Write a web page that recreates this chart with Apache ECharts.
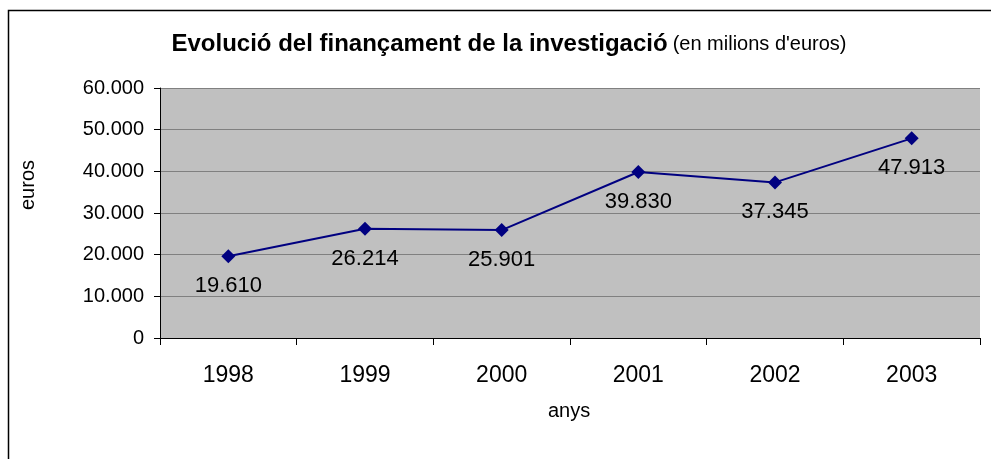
<!DOCTYPE html>
<html lang="ca">
  <head>
    <meta charset="UTF-8" />
    <title>Evolució del finançament de la investigació</title>
    <style>
      * {
        margin: 0;
        padding: 0;
      }
      #main {
        width: 991px;
        height: 459px;
        background: #fff;
      }
    </style>
  </head>
  <body>
    <div id="main"></div>
    <script src="https://cdn.jsdelivr.net/npm/echarts@6/dist/echarts.min.js"></script>
    <script>
      const chart = echarts.init(document.getElementById("main"));

      // dades
      const years = ["1998", "1999", "2000", "2001", "2002", "2003"];
      const funding = [19610, 26214, 25901, 39830, 37345, 47913];

      // 19610 -> "19.610"
      const fmt = (v) => String(v).replace(/\B(?=(\d{3})+(?!\d))/g, ".");

      const font = "Liberation Sans, Arial, sans-serif";

      const option = {
        animation: false,
        textStyle: { fontFamily: font },
        title: {
          text: "{b|Evolució del finançament de la investigació} {n|(en milions d'euros)}",
          left: 504,
          top: 27,
          textAlign: "center",
          textStyle: {
            rich: {
              b: { fontFamily: font, fontWeight: "bold", fontSize: 24, color: "#000" },
              n: { fontFamily: font, fontWeight: "normal", fontSize: 20, color: "#000" },
            },
          },
        },
        graphic: [
          {
            type: "rect",
            shape: { x: 8.5, y: 10.5, width: 1000, height: 500 },
            style: { fill: "none", stroke: "#000", lineWidth: 1.5 },
            z: -10,
          },
          {
            type: "text",
            left: 548,
            top: 401,
            style: { text: "anys", font: "20px " + font, fill: "#000" },
          },
          {
            type: "text",
            x: 18,
            y: 210,
            rotation: Math.PI / 2,
            style: { text: "euros", font: "20px " + font, fill: "#000" },
          },
        ],
        grid: {
          left: 160,
          right: 11,
          top: 88,
          bottom: 121,
          show: true,
          backgroundColor: "#c0c0c0",
          borderWidth: 0,
        },
        xAxis: {
          type: "category",
          data: years,
          boundaryGap: true,
          axisLine: { lineStyle: { color: "#000", width: 1 } },
          axisTick: { show: true, length: 7, lineStyle: { color: "#000" } },
          axisLabel: { color: "#000", fontSize: 23, margin: 26, fontFamily: font },
        },
        yAxis: {
          type: "value",
          min: 0,
          max: 60000,
          interval: 10000,
          axisLine: { show: true, lineStyle: { color: "#000", width: 1 } },
          axisTick: { show: true, length: 6, lineStyle: { color: "#000" } },
          axisLabel: {
            color: "#000",
            fontSize: 20,
            margin: 16,
            fontFamily: font,
            formatter: fmt,
          },
          splitLine: { lineStyle: { color: "#808080", width: 1 } },
        },
        series: [
          {
            type: "line",
            data: funding,
            symbol: "diamond",
            symbolSize: 14,
            lineStyle: { color: "#000080", width: 2 },
            itemStyle: { color: "#000080" },
            label: {
              show: true,
              position: "bottom",
              distance: 12,
              color: "#000",
              fontSize: 22,
              fontFamily: font,
              formatter: (p) => fmt(p.value),
            },
          },
        ],
      };

      chart.setOption(option);
    </script>
  </body>
</html>
